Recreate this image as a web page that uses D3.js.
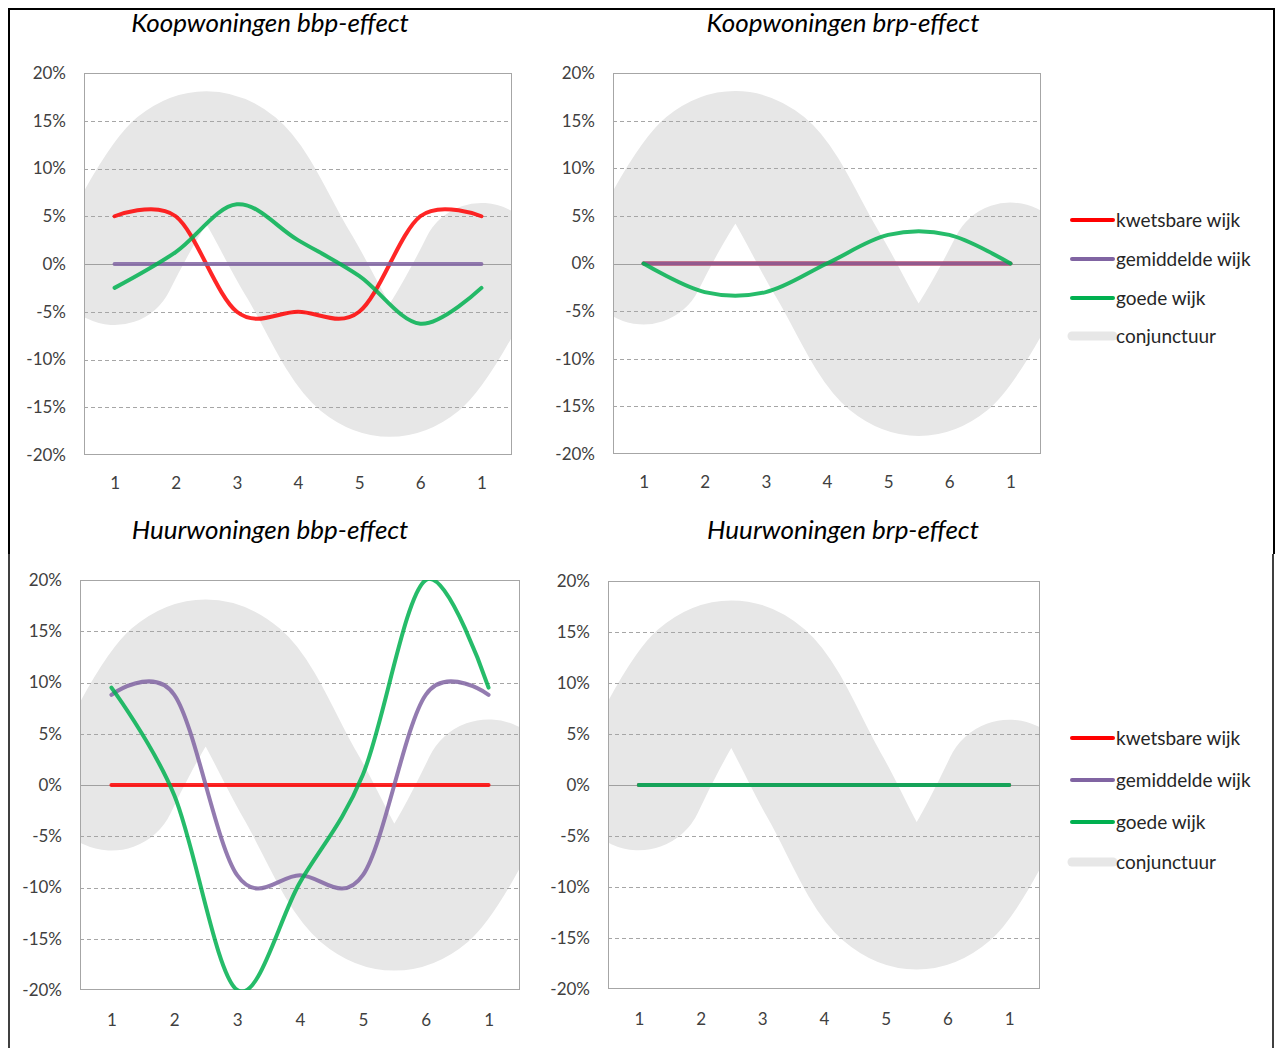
<!DOCTYPE html>
<html>
<head>
<meta charset="utf-8">
<script src="https://cdn.jsdelivr.net/npm/d3@7"></script>
<style>
  html, body { margin: 0; padding: 0; background: #ffffff; }
  svg { display: block; }
</style>
</head>
<body>
<svg id="chart" width="1279" height="1048"></svg>
<script>
// ---- data ----
const categories = ["1", "2", "3", "4", "5", "6", "1"];
const yTickValues = [20, 15, 10, 5, 0, -5, -10, -15, -20];
const conjunctuur = [0, 10.4, 10.4, 0, -10.4, -10.4, 0];

const koopBbpKwetsbaar = [5, 5, -5, -5, -5, 5, 5];
const koopBbpGemiddeld = [0, 0, 0, 0, 0, 0, 0];
const koopBbpGoede     = [-2.5, 1.25, 6.25, 2.5, -1.25, -6.25, -2.5];

const koopBrpKwetsbaar = [0, 0, 0, 0, 0, 0, 0];
const koopBrpGemiddeld = [0, 0, 0, 0, 0, 0, 0];
const koopBrpGoede     = [0, -3, -3, 0, 3, 3, 0];

const huurBbpKwetsbaar = [0, 0, 0, 0, 0, 0, 0];
const huurBbpGemiddeld = [8.8, 8.8, -8.8, -8.8, -8.8, 8.8, 8.8];
const huurBbpGoede     = [9.5, -1, -20, -9.5, 1, 20, 9.5];

const huurBrpKwetsbaar = [0, 0, 0, 0, 0, 0, 0];
const huurBrpGemiddeld = [0, 0, 0, 0, 0, 0, 0];
const huurBrpGoede     = [0, 0, 0, 0, 0, 0, 0];

const seriesNames = ["kwetsbare wijk", "gemiddelde wijk", "goede wijk", "conjunctuur"];
const panelTitles = ["Koopwoningen bbp-effect", "Koopwoningen brp-effect",
                     "Huurwoningen bbp-effect", "Huurwoningen brp-effect"];

// ---- styling / layout ----
const colors = ["#ff0000", "#8064a2", "#00b050"];
const conjColor = "#e7e7e7";
const conjWidthPct = 12.8;   // stroke width of the conjunctuur band, in y-units

const panels = [
  { title: panelTitles[0], x0: 84,  x1: 512,  y0: 73,  y1: 455, tx: 270, ty: 32, xpad: 22,
    series: [koopBbpKwetsbaar, koopBbpGemiddeld, koopBbpGoede] },
  { title: panelTitles[1], x0: 613, x1: 1041, y0: 73,  y1: 454, tx: 843, ty: 32, xpad: 22,
    series: [koopBrpKwetsbaar, koopBrpGemiddeld, koopBrpGoede] },
  { title: panelTitles[2], x0: 80,  x1: 520,  y0: 580, y1: 990, tx: 270, ty: 539, xpad: 24,
    series: [huurBbpKwetsbaar, huurBbpGemiddeld, huurBbpGoede] },
  { title: panelTitles[3], x0: 608, x1: 1040, y0: 581, y1: 989, tx: 843, ty: 539, xpad: 24,
    series: [huurBrpKwetsbaar, huurBrpGemiddeld, huurBrpGoede] }
];

const legends = [
  { x: 1072, rows: [220, 259, 298, 336] },
  { x: 1072, rows: [738, 780, 822, 862] }
];

const svg = d3.select("#chart");
svg.append("rect").attr("width", 1279).attr("height", 1048).attr("fill", "#fff");

const defs = svg.append("defs");
const labelFont = "Lato, 'Open Sans', sans-serif";

panels.forEach((p, pi) => {
  const g = svg.append("g");
  const idx = d3.range(categories.length);
  const x = d3.scalePoint().domain(idx).range([p.x0, p.x1]).padding(0.5);
  const y = d3.scaleLinear().domain([-20, 20]).range([p.y1, p.y0]);

  const clipId = "clip" + pi;
  defs.append("clipPath").attr("id", clipId)
    .append("rect").attr("x", p.x0).attr("y", p.y0)
    .attr("width", p.x1 - p.x0).attr("height", p.y1 - p.y0);

  const line = d3.line()
    .x((d, i) => x(i))
    .y(d => y(d))
    .curve(d3.curveCatmullRom.alpha(0));

  // conjunctuur band
  g.append("path")
    .datum(conjunctuur)
    .attr("clip-path", `url(#${clipId})`)
    .attr("d", line)
    .attr("fill", "none")
    .attr("stroke", conjColor)
    .attr("stroke-width", y(0) - y(conjWidthPct))
    .attr("stroke-linecap", "round")
    .attr("stroke-linejoin", "round");

  // gridlines
  const yAxisGrid = d3.axisLeft(y).tickValues(yTickValues.filter(v => v !== 0 && Math.abs(v) !== 20))
    .tickSize(-(p.x1 - p.x0)).tickFormat("");
  const grid = g.append("g").attr("transform", `translate(${p.x0},0)`).call(yAxisGrid);
  grid.select(".domain").remove();
  grid.selectAll(".tick line")
    .attr("stroke", "#a6a6a6").attr("stroke-width", 1)
    .attr("stroke-dasharray", "4,3")
    .attr("shape-rendering", "crispEdges");

  // zero line
  g.append("line")
    .attr("x1", p.x0).attr("x2", p.x1)
    .attr("y1", Math.round(y(0)) + 0.5).attr("y2", Math.round(y(0)) + 0.5)
    .attr("stroke", "#a0a0a0").attr("stroke-width", 1);

  // plot border
  g.append("rect")
    .attr("x", p.x0 + 0.5).attr("y", p.y0 + 0.5)
    .attr("width", p.x1 - p.x0 - 1).attr("height", p.y1 - p.y0 - 1)
    .attr("fill", "none").attr("stroke", "#a6a6a6").attr("stroke-width", 1);

  // y tick labels
  const yAxis = d3.axisLeft(y).tickValues(yTickValues).tickSize(0).tickPadding(18)
    .tickFormat(d => d + "%");
  const ya = g.append("g").attr("transform", `translate(${p.x0},0)`).call(yAxis);
  ya.select(".domain").remove();
  ya.selectAll("text").attr("font-family", labelFont).attr("font-size", 17)
    .attr("fill", "#404040");

  // x tick labels
  const xAxis = d3.axisBottom(x).tickSize(0).tickPadding(p.xpad).tickFormat(i => categories[i]);
  const xa = g.append("g").attr("transform", `translate(0,${p.y1})`).call(xAxis);
  xa.select(".domain").remove();
  xa.selectAll("text").attr("font-family", labelFont).attr("font-size", 17)
    .attr("fill", "#404040");

  // series lines
  p.series.forEach((s, si) => {
    g.append("path")
      .datum(s)
      .attr("clip-path", `url(#${clipId})`)
      .attr("d", line)
      .attr("fill", "none")
      .attr("stroke", colors[si])
      .attr("stroke-opacity", 0.85)
      .attr("stroke-width", 4)
      .attr("stroke-linecap", "round")
      .attr("stroke-linejoin", "round");
  });

  // title
  g.append("text")
    .attr("x", p.tx).attr("y", p.ty)
    .attr("text-anchor", "middle")
    .attr("font-family", "Lato, 'Open Sans', sans-serif")
    .attr("font-style", "italic")
    .attr("font-size", 26)
    .attr("fill", "#000")
    .text(p.title);
});

// legends
legends.forEach(L => {
  const lg = svg.append("g");
  seriesNames.forEach((name, i) => {
    const yy = L.rows[i];
    lg.append("line")
      .attr("x1", L.x).attr("x2", L.x + 41)
      .attr("y1", yy).attr("y2", yy)
      .attr("stroke", i < 3 ? colors[i] : conjColor)
      .attr("stroke-width", i < 3 ? 4 : 9)
      .attr("stroke-linecap", "round");
    lg.append("text")
      .attr("x", L.x + 44).attr("y", yy)
      .attr("dy", "0.35em")
      .attr("font-family", labelFont)
      .attr("font-size", 19)
      .attr("fill", "#262626")
      .text(name);
  });
});

// outer frame lines (composite screenshot border)
const frame = svg.append("g").attr("stroke", "#000").attr("fill", "none");
frame.append("line").attr("x1", 8).attr("x2", 1275).attr("y1", 9).attr("y2", 9).attr("stroke-width", 2);
frame.append("line").attr("x1", 9).attr("x2", 9).attr("y1", 8).attr("y2", 554).attr("stroke-width", 2);
frame.append("line").attr("x1", 9).attr("x2", 9).attr("y1", 554).attr("y2", 1048).attr("stroke-width", 1.5);
frame.append("line").attr("x1", 1274).attr("x2", 1274).attr("y1", 8).attr("y2", 554).attr("stroke-width", 2);
frame.append("line").attr("x1", 1273).attr("x2", 1273).attr("y1", 554).attr("y2", 1048).attr("stroke-width", 1.5);
</script>
</body>
</html>
